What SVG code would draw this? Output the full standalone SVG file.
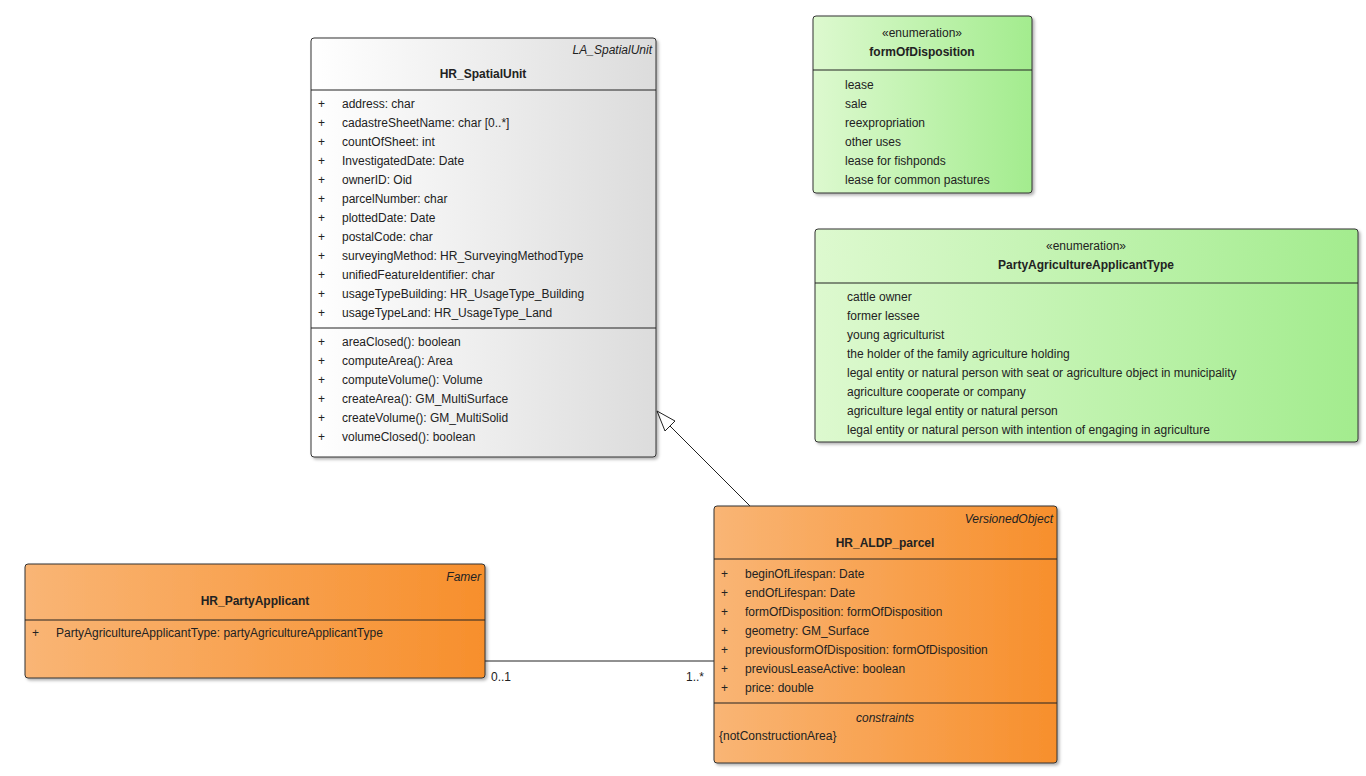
<svg xmlns="http://www.w3.org/2000/svg" width="1366" height="776" viewBox="0 0 1366 776">
<defs>
<linearGradient id="gGray" x1="0" y1="0" x2="1" y2="0"><stop offset="0" stop-color="#ffffff"/><stop offset="1" stop-color="#dcdcdc"/></linearGradient>
<linearGradient id="gGreen" x1="0" y1="0" x2="1" y2="0"><stop offset="0" stop-color="#ddf9cf"/><stop offset="1" stop-color="#a3ec8e"/></linearGradient>
<linearGradient id="gOrange" x1="0" y1="0" x2="1" y2="0"><stop offset="0" stop-color="#f9b575"/><stop offset="1" stop-color="#f78f2c"/></linearGradient>
<filter id="sh" x="-5%" y="-5%" width="110%" height="110%"><feDropShadow dx="2" dy="2" stdDeviation="1.5" flood-color="#000" flood-opacity="0.3"/></filter>
</defs>
<style>
text{font-family:"Liberation Sans",Arial,sans-serif;font-size:12px;fill:#222}
.b{font-weight:bold;text-anchor:middle}
.i{font-style:italic;text-anchor:end}
.c{text-anchor:middle}
.box{stroke:#333;stroke-width:1}
.ln{stroke:#222;stroke-width:1}
</style>
<rect width="1366" height="776" fill="#fff"/>
<g id="connectors">
<line class="ln" x1="485" y1="661" x2="714" y2="661"/>
<text x="491" y="681">0..1</text>
<text x="686" y="681">1..*</text>
<line class="ln" x1="750" y1="506" x2="668" y2="424"/>
<polygon points="657,411 675,421 665,431" fill="#fff" stroke="#222"/>
</g>
<g id="HR_SpatialUnit">
<rect class="box" x="311" y="38" width="345" height="419" rx="3" fill="url(#gGray)" filter="url(#sh)"/>
<text class="i" x="652" y="54">LA_SpatialUnit</text>
<text class="b" x="483" y="78">HR_SpatialUnit</text>
<line class="ln" x1="311" y1="90" x2="656" y2="90"/>
<g>
<text x="318" y="108">+</text><text x="342" y="108">address: char</text>
<text x="318" y="127">+</text><text x="342" y="127">cadastreSheetName: char [0..*]</text>
<text x="318" y="146">+</text><text x="342" y="146">countOfSheet: int</text>
<text x="318" y="165">+</text><text x="342" y="165">InvestigatedDate: Date</text>
<text x="318" y="184">+</text><text x="342" y="184">ownerID: Oid</text>
<text x="318" y="203">+</text><text x="342" y="203">parcelNumber: char</text>
<text x="318" y="222">+</text><text x="342" y="222">plottedDate: Date</text>
<text x="318" y="241">+</text><text x="342" y="241">postalCode: char</text>
<text x="318" y="260">+</text><text x="342" y="260">surveyingMethod: HR_SurveyingMethodType</text>
<text x="318" y="279">+</text><text x="342" y="279">unifiedFeatureIdentifier: char</text>
<text x="318" y="298">+</text><text x="342" y="298">usageTypeBuilding: HR_UsageType_Building</text>
<text x="318" y="317">+</text><text x="342" y="317">usageTypeLand: HR_UsageType_Land</text>
</g>
<line class="ln" x1="311" y1="328" x2="656" y2="328"/>
<text x="318" y="346">+</text><text x="342" y="346">areaClosed(): boolean</text>
<text x="318" y="365">+</text><text x="342" y="365">computeArea(): Area</text>
<text x="318" y="384">+</text><text x="342" y="384">computeVolume(): Volume</text>
<text x="318" y="403">+</text><text x="342" y="403">createArea(): GM_MultiSurface</text>
<text x="318" y="422">+</text><text x="342" y="422">createVolume(): GM_MultiSolid</text>
<text x="318" y="441">+</text><text x="342" y="441">volumeClosed(): boolean</text>
</g>
<g id="formOfDisposition">
<rect class="box" x="813" y="16" width="219" height="177" rx="3" fill="url(#gGreen)" filter="url(#sh)"/>
<text class="c" x="922" y="37">«enumeration»</text>
<text class="b" x="922" y="56">formOfDisposition</text>
<line class="ln" x1="813" y1="70" x2="1032" y2="70"/>
<text x="845" y="89">lease</text>
<text x="845" y="108">sale</text>
<text x="845" y="127">reexpropriation</text>
<text x="845" y="146">other uses</text>
<text x="845" y="165">lease for fishponds</text>
<text x="845" y="184">lease for common pastures</text>
</g>
<g id="PartyAgricultureApplicantType">
<rect class="box" x="815" y="229" width="543" height="213" rx="3" fill="url(#gGreen)" filter="url(#sh)"/>
<text class="c" x="1086" y="250">«enumeration»</text>
<text class="b" x="1086" y="269">PartyAgricultureApplicantType</text>
<line class="ln" x1="815" y1="283" x2="1358" y2="283"/>
<text x="847" y="301">cattle owner</text>
<text x="847" y="320">former lessee</text>
<text x="847" y="339">young agriculturist</text>
<text x="847" y="358">the holder of the family agriculture holding</text>
<text x="847" y="377">legal entity or natural person with seat or agriculture object in municipality</text>
<text x="847" y="396">agriculture cooperate or company</text>
<text x="847" y="415">agriculture legal entity or natural person</text>
<text x="847" y="434">legal entity or natural person with intention of engaging in agriculture</text>
</g>
<g id="HR_ALDP_parcel">
<rect class="box" x="714" y="506" width="343" height="257" rx="3" fill="url(#gOrange)" filter="url(#sh)"/>
<text class="i" x="1053" y="523">VersionedObject</text>
<text class="b" x="885" y="547">HR_ALDP_parcel</text>
<line class="ln" x1="714" y1="559" x2="1057" y2="559"/>
<text x="721" y="578">+</text><text x="745" y="578">beginOfLifespan: Date</text>
<text x="721" y="597">+</text><text x="745" y="597">endOfLifespan: Date</text>
<text x="721" y="616">+</text><text x="745" y="616">formOfDisposition: formOfDisposition</text>
<text x="721" y="635">+</text><text x="745" y="635">geometry: GM_Surface</text>
<text x="721" y="654">+</text><text x="745" y="654">previousformOfDisposition: formOfDisposition</text>
<text x="721" y="673">+</text><text x="745" y="673">previousLeaseActive: boolean</text>
<text x="721" y="692">+</text><text x="745" y="692">price: double</text>
<line class="ln" x1="714" y1="703" x2="1057" y2="703"/>
<text class="c" x="885" y="722" font-style="italic">constraints</text>
<text x="719" y="740">{notConstructionArea}</text>
</g>
<g id="HR_PartyApplicant">
<rect class="box" x="25" y="564" width="460" height="114" rx="3" fill="url(#gOrange)" filter="url(#sh)"/>
<text class="i" x="481" y="581">Famer</text>
<text class="b" x="255" y="605">HR_PartyApplicant</text>
<line class="ln" x1="25" y1="620" x2="485" y2="620"/>
<text x="32" y="637">+</text><text x="56" y="637">PartyAgricultureApplicantType: partyAgricultureApplicantType</text>
</g>
</svg>
